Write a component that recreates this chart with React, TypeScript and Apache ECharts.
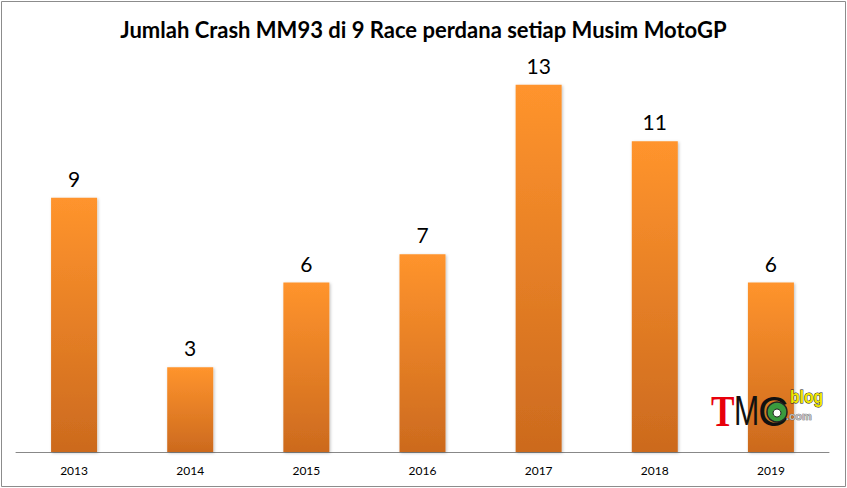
import React, { useEffect, useRef } from "react";
import * as echarts from "echarts";

const categories = ["2013", "2014", "2015", "2016", "2017", "2018", "2019"];
const crashes = [9, 3, 6, 7, 13, 11, 6];
const titleText = "Jumlah Crash MM93 di 9 Race perdana setiap Musim MotoGP";

export default function App() {
  const ref = useRef<HTMLDivElement>(null);
  useEffect(() => {
    document.body.style.margin = "0";
    const chart = echarts.init(ref.current!, null, { renderer: "svg" });
    chart.setOption({
      animation: false,
      backgroundColor: "#ffffff",
      title: {
        text: titleText,
        left: "center",
        top: 13,
        textStyle: { fontFamily: "Lato", fontWeight: "bold", fontSize: 22, color: "#000" },
      },
      grid: { left: 16, right: 18, top: 56.5, bottom: 36 },
      xAxis: {
        type: "category",
        data: categories,
        axisLine: { lineStyle: { color: "#888888", width: 1 } },
        axisTick: { show: false },
        axisLabel: { color: "#000", fontFamily: "Lato", fontSize: 12, margin: 12 },
      },
      yAxis: { type: "value", min: 0, max: 14, show: false, splitLine: { show: false } },
      series: [
        {
          type: "bar",
          data: crashes,
          barWidth: 46,
          itemStyle: {
            color: new echarts.graphic.LinearGradient(0, 0, 0, 1, [
              { offset: 0, color: "#FF942D" },
              { offset: 1, color: "#CC6A1E" },
            ]),
            shadowBlur: 3,
            shadowColor: "rgba(0,0,0,0.25)",
            shadowOffsetX: 1,
            shadowOffsetY: 1,
          },
          label: {
            show: true,
            position: "top",
            distance: 9,
            color: "#000",
            fontFamily: "Lato",
            fontSize: 21,
          },
        },
      ],
      graphic: [
        {
          type: "rect",
          z: 100,
          shape: { x: 1.5, y: 1.5, width: 844, height: 485 },
          style: { fill: "none", stroke: "#8c8c8c", lineWidth: 1 },
          silent: true,
        },
        { type: "text", z: 100, x: 711, y: 411, scaleX: 0.8, style: { text: "T", fill: "#e8000b", font: "bold 44px 'Liberation Serif'", verticalAlign: "middle" } },
        { type: "text", z: 100, x: 734, y: 411, scaleX: 0.72, style: { text: "M", fill: "#111", font: "42px 'Liberation Sans'", verticalAlign: "middle" } },
        { type: "text", z: 100, x: 758, y: 411, scaleX: 1.0, style: { text: "C", fill: "#111", font: "42px 'Liberation Sans'", verticalAlign: "middle" } },
        { type: "circle", z: 101, shape: { cx: 777, cy: 412, r: 10 }, style: { fill: "#3a9b3e", stroke: "#222", lineWidth: 1.5 } },
        { type: "circle", z: 102, shape: { cx: 777, cy: 413, r: 4 }, style: { fill: "#ffffff", stroke: "#222", lineWidth: 1 } },
        { type: "text", z: 100, x: 790, y: 397, scaleX: 0.87, style: { text: "blog", fill: "#f0e600", stroke: "#222", lineWidth: 1, font: "bold 18px 'Liberation Sans'", verticalAlign: "middle" } },
        { type: "text", z: 100, x: 786, y: 416, style: { text: ".com", fill: "#bdbdbd", stroke: "#555", lineWidth: 0.6, font: "bold 11px 'Liberation Sans'", verticalAlign: "middle" } },
      ],
    });
    return () => chart.dispose();
  }, []);
  return <div ref={ref} style={{ width: 847, height: 488 }} />;
}
